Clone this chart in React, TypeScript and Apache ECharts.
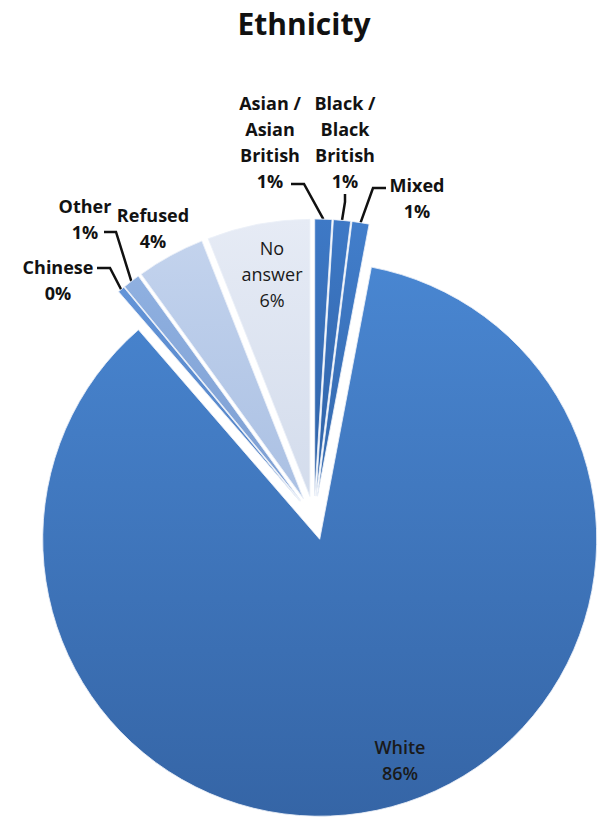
import React, { useEffect, useRef } from 'react';
import * as echarts from 'echarts';

// ---- data ----
const categories = [
  'Asian / Asian British',
  'Black / Black British',
  'Mixed',
  'White',
  'Chinese',
  'Other',
  'Refused',
  'No answer',
];
const shares = [1, 1, 1, 86, 0.4, 1, 4, 6];

// ---- styling / layout (not data) ----
const CENTER: [number, number] = [314, 518];
const RADIUS = 277;
const EXPLODE = 22;
const sliceColors: string[][] = [
  ['#3e79c6', '#2f62a6'],
  ['#3e79c6', '#2f62a6'],
  ['#427ecb', '#3368ad'],
  ['#4986d1', '#3565a6'],
  ['#6394d8', '#5282c4'],
  ['#8fb0e0', '#7c9ed2'],
  ['#c3d3ed', '#aac0e3'],
  ['#e6ebf5', '#d3dcec'],
];
const insideLabel = [false, false, false, true, false, false, false, true];
// label centres (px) and leader elbow / end points (px), null = no leader
const labelCenters: [number, number][] = [
  [270, 142],
  [345, 142],
  [417, 198],
  [400, 760],
  [58, 280],
  [85, 219],
  [153, 228],
  [272, 274],
];
const leaderBends: (number[][] | null)[] = [
  [[304, 184], [291, 184]],
  [[345, 202], [345, 194]],
  [[373, 188], [386, 188]],
  null,
  [[110, 268], [97, 268]],
  [[116, 232], [104, 232]],
  null,
  null,
];

function wrapName(name: string): string {
  const words = name.split(' ');
  const lines: string[] = [];
  words.forEach((w) => {
    if (w === '/' && lines.length) lines[lines.length - 1] += ' /';
    else lines.push(w);
  });
  return lines.join('\n');
}

export default function App() {
  const ref = useRef<HTMLDivElement>(null);
  useEffect(() => {
    if (!ref.current) return;
    const chart = echarts.init(ref.current, undefined, { renderer: 'svg' });
    const outsideText = {
      fontFamily: 'Open Sans',
      fontWeight: 'bold',
      fontSize: 18,
      lineHeight: 26,
      color: '#121212',
    };
    const sliceData = categories.map((name, i) => ({
      name,
      value: shares[i],
      selected: true,
      itemStyle: {
        color: new echarts.graphic.LinearGradient(0, 0, 0, 1, [
          { offset: 0, color: sliceColors[i][0] },
          { offset: 1, color: sliceColors[i][1] },
        ]),
      },
    }));
    const labelData = categories.map((name, i) => ({
      name,
      value: shares[i],
      label: insideLabel[i]
        ? {
            fontFamily: 'Open Sans',
            fontWeight: i === 3 ? 600 : 'normal',
            fontSize: 18,
            lineHeight: 26,
            color: '#1a1a1a',
          }
        : { ...outsideText },
      labelLine: { show: !!leaderBends[i] },
    }));
    chart.setOption({
      animation: false,
      backgroundColor: '#ffffff',
      title: {
        text: 'Ethnicity',
        left: 'center',
        top: 3,
        textStyle: {
          fontFamily: 'Open Sans',
          fontWeight: 'bold',
          fontSize: 30,
          color: '#111111',
        },
      },
      series: [
        {
          type: 'pie',
          name: 'slices',
          center: CENTER,
          radius: RADIUS,
          startAngle: 90,
          clockwise: true,
          selectedMode: 'multiple',
          selectedOffset: EXPLODE,
          emphasis: { disabled: true },
          silent: true,
          itemStyle: {
            borderColor: 'rgba(235,240,248,0.85)',
            borderWidth: 1,
          },
          label: { show: false },
          labelLine: { show: false },
          data: sliceData,
        },
        {
          type: 'pie',
          name: 'labels',
          center: CENTER,
          radius: RADIUS + EXPLODE,
          startAngle: 90,
          clockwise: true,
          silent: true,
          avoidLabelOverlap: false,
          percentPrecision: 0,
          emphasis: { disabled: true },
          itemStyle: { color: 'rgba(0,0,0,0)' },
          label: {
            position: 'outside',
            formatter: (p: any) => wrapName(p.name) + '\n' + p.percent + '%',
          },
          labelLine: {
            length: 10,
            length2: 10,
            lineStyle: { color: '#111111', width: 2.5 },
          },
          labelLayout: (params: any) => {
            const i = params.dataIndex;
            const c = labelCenters[i];
            const out: any = { x: c[0], y: c[1], align: 'center', verticalAlign: 'middle' };
            const bends = leaderBends[i];
            if (bends && params.labelLinePoints) {
              out.labelLinePoints = [params.labelLinePoints[0], bends[0], bends[1]];
            }
            return out;
          },
          data: labelData,
        },
      ],
    });
    return () => chart.dispose();
  }, []);
  return (
    <div
      ref={ref}
      style={{ position: 'fixed', left: 0, top: 0, width: 608, height: 818, background: '#fff' }}
    />
  );
}
